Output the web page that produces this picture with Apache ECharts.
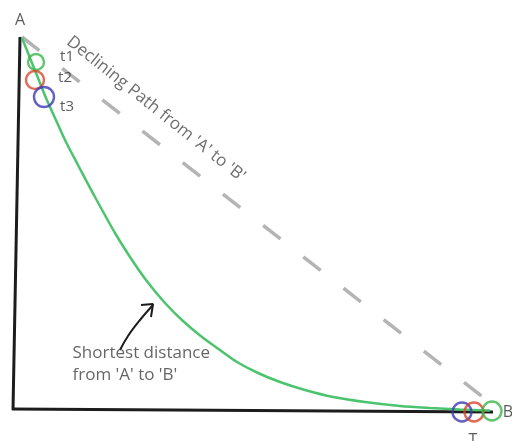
<!DOCTYPE html>
<html>
<head>
<meta charset="utf-8">
<script src="https://cdn.jsdelivr.net/npm/echarts@6/dist/echarts.min.js"></script>
<style>html,body{margin:0;padding:0;background:#fff;}#c{width:512px;height:441px;}</style>
</head>
<body>
<div id="c"></div>
<script>
// Values (data units: x to the right, y upward, origin at the axis corner)
const axisVertical = [[6, 374], [-1, 1]];
const axisHorizontal = [[-2, 2], [479, -1]];
const shortestPath = [[8,373],[16,353],[24,333],[32,313],[41,293],[51,271],[64,246],[81,214],[101,178],[116,154],[132,131],[151,108],[169,90],[188,74],[206,61],[223,49],[244,38],[266,29],[291,21],[319,14],[351,9],[386,5],[416,3],[446,1.5],[476,0.5]];
const decliningPath = [[8, 374], [470, 13]];
const circlePositions = [[22,349],[21,331],[30,314],[448,-1],[460,-1],[478,0]];
const circleSizes = [16, 18, 20, 19, 19, 19];
const circleColors = ['#3cb44b', '#d9452b', '#3b3bb8', '#3b3bb8', '#d9452b', '#3cb44b'];
const pointLabels = ['A', 't1', 't2', 't3', 'B', 'T'];
const pointLabelPositions = [[6,391],[53,354],[51,333],[53,304],[494,-1],[459,-29]];
const pointLabelSizes = [16, 15, 15, 15, 16, 16];
const arrowShaft = [[106,61],[114,75],[126,91],[139,106]];
const arrowHead = [[127,106],[139,107],[137,94]];
const decliningText = "Declining Path from 'A' to 'B'";
const decliningTextPos = [142, 302];
const shortestText = ["Shortest distance", "from 'A' to 'B'"];
const shortestTextPos = [[58, 58], [58, 36]];

const chart = echarts.init(document.getElementById('c'), null, {renderer: 'canvas'});
const font = "'Open Sans', 'Noto Sans', sans-serif";
const lineBase = {type: 'line', symbol: 'none', silent: true, animation: false};

chart.setOption({
  animation: false,
  backgroundColor: '#fff',
  grid: {left: 0, right: 0, top: 0, bottom: 0},
  xAxis: {type: 'value', min: -14, max: 498, show: false},
  yAxis: {type: 'value', min: -30, max: 411, show: false},
  series: [
    Object.assign({}, lineBase, {data: decliningPath, z: 1,
      lineStyle: {color: '#b4b4b4', width: 3.5, type: [22, 29], dashOffset: 0, cap: 'butt'}}),
    Object.assign({}, lineBase, {data: axisVertical, z: 2, lineStyle: {color: '#1c1c1c', width: 3}}),
    Object.assign({}, lineBase, {data: axisHorizontal, z: 2, lineStyle: {color: '#1c1c1c', width: 3}}),
    Object.assign({}, lineBase, {data: shortestPath, smooth: 0.3, z: 3,
      lineStyle: {color: '#4cc46e', width: 2.5}}),
    Object.assign({}, lineBase, {data: arrowShaft, smooth: 0.4, z: 3, lineStyle: {color: '#1c1c1c', width: 2}}),
    Object.assign({}, lineBase, {data: arrowHead, z: 3, lineStyle: {color: '#1c1c1c', width: 2}}),
    {
      type: 'scatter', silent: true, z: 4,
      data: circlePositions.map((p, i) => ({
        value: p, symbolSize: circleSizes[i],
        itemStyle: {color: 'rgba(0,0,0,0)', borderColor: circleColors[i], borderWidth: 2.4}
      }))
    },
    {
      type: 'scatter', silent: true, z: 5, symbolSize: 1,
      itemStyle: {color: 'rgba(0,0,0,0)'},
      data: pointLabels.map((t, i) => ({value: pointLabelPositions[i], name: t,
        label: {fontSize: pointLabelSizes[i]}})),
      label: {show: true, position: 'inside', formatter: '{b}', color: '#333',
        fontFamily: font}
    },
    {
      type: 'scatter', silent: true, z: 5, symbolSize: 1,
      itemStyle: {color: 'rgba(0,0,0,0)'},
      data: [{value: decliningTextPos, name: decliningText}],
      label: {show: true, position: 'inside', formatter: '{b}', color: '#4a4a4a',
        fontFamily: font, fontSize: 17, rotate: -38.5}
    },
    {
      type: 'scatter', silent: true, z: 5, symbolSize: 1,
      itemStyle: {color: 'rgba(0,0,0,0)'},
      data: shortestText.map((t, i) => ({value: shortestTextPos[i], name: t})),
      label: {show: true, position: 'right', distance: 0, formatter: '{b}', color: '#3f3f3f',
        fontFamily: font, fontSize: 17}
    }
  ]
});
</script>
</body>
</html>
